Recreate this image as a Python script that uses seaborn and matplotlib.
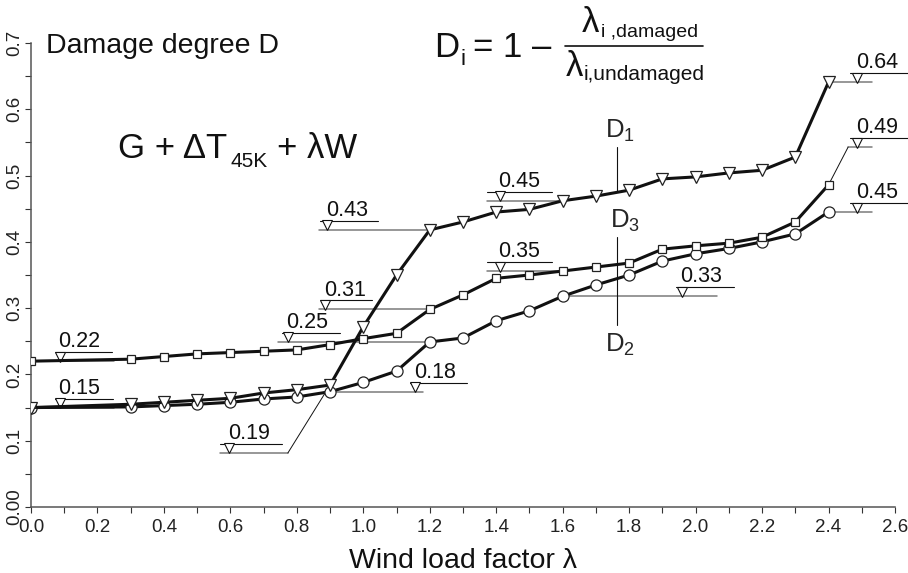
import pandas as pd
import seaborn as sns
import matplotlib.pyplot as plt
from matplotlib.lines import Line2D
from matplotlib.ticker import FixedLocator, MultipleLocator

# ==================================
# DADOS
# ==================================

lam = [0.0, 0.3, 0.4, 0.5, 0.6, 0.7, 0.8, 0.9, 1.0, 1.1, 1.2, 1.3,
       1.4, 1.5, 1.6, 1.7, 1.8, 1.9, 2.0, 2.1, 2.2, 2.3, 2.4]

d1 = [0.150, 0.155, 0.158, 0.161, 0.164, 0.172, 0.177, 0.184, 0.272, 0.350, 0.418, 0.430,
      0.445, 0.449, 0.462, 0.469, 0.478, 0.495, 0.498, 0.504, 0.508, 0.528, 0.641]
d3 = [0.220, 0.223, 0.227, 0.231, 0.233, 0.235, 0.237, 0.245, 0.254, 0.262, 0.298, 0.320,
      0.345, 0.350, 0.356, 0.362, 0.368, 0.389, 0.394, 0.398, 0.407, 0.430, 0.486]
d2 = [0.150, 0.151, 0.153, 0.155, 0.158, 0.163, 0.166, 0.174, 0.188, 0.205, 0.249, 0.255,
      0.281, 0.296, 0.318, 0.335, 0.350, 0.371, 0.382, 0.390, 0.400, 0.412, 0.445]

x_ticks = [0.0, 0.2, 0.4, 0.6, 0.8, 1.0, 1.2, 1.4, 1.6, 1.8, 2.0, 2.2, 2.4, 2.6]
x_tick_labels = ["0.0", "0.2", "0.4", "0.6", "0.8", "1.0", "1.2", "1.4",
                 "1.6", "1.8", "2.0", "2.2", "2.4", "2.6"]
y_ticks = [0.0, 0.1, 0.2, 0.3, 0.4, 0.5, 0.6, 0.7]
y_tick_labels = ["0.00", "0.1", "0.2", "0.3", "0.4", "0.5", "0.6", "0.7"]

# rotulos de nivel: texto, curva e lambda do ponto de referencia
ann_labels = ["0.22", "0.15", "0.19", "0.25", "0.31", "0.43", "0.18",
              "0.45", "0.35", "0.33", "0.64", "0.49", "0.45"]
ann_series = ["D3", "D1", "D1", "D2", "D3", "D1", "D2",
              "D1", "D3", "D2", "D1", "D3", "D2"]
ann_lambda = [0.0, 0.0, 0.9, 1.2, 1.2, 1.2, 0.9,
              1.6, 1.6, 1.6, 2.4, 2.4, 2.4]

df = pd.DataFrame({
    "lambda": lam * 3,
    "D": d1 + d3 + d2,
    "serie": ["D1"] * len(lam) + ["D3"] * len(lam) + ["D2"] * len(lam),
})

# ==================================
# LAYOUT
# ==================================

# (linha longa x0, x1, linha curta x0, x1, x do triangulo, y da prateleira ou None)
ann_layout = [
    (0.00, 0.25, 0.072, 0.245, 0.087, None),
    (0.00, 0.25, 0.072, 0.247, 0.087, None),
    (0.569, 0.773, 0.569, 0.755, 0.596, 0.0815),
    (0.743, 1.20, 0.755, 0.930, 0.773, None),
    (0.867, 1.20, 0.870, 1.026, 0.885, None),
    (0.867, 1.20, 0.870, 1.044, 0.891, None),
    (0.90, 1.180, 1.141, 1.312, 1.156, None),
    (1.372, 1.60, 1.372, 1.568, 1.411, None),
    (1.372, 1.60, 1.372, 1.568, 1.411, None),
    (1.60, 2.064, 1.941, 2.116, 1.959, None),
    (2.40, 2.531, 2.465, 2.640, 2.486, None),
    (2.459, 2.531, 2.465, 2.640, 2.486, 0.543),
    (2.40, 2.531, 2.465, 2.640, 2.486, None),
]
gap = 0.0136

sns.set_style("ticks")
plt.rcParams["font.family"] = ["Liberation Sans", "DejaVu Sans"]
plt.rcParams["mathtext.fontset"] = "custom"
plt.rcParams["mathtext.rm"] = "Liberation Sans"

W, H = 908, 573
fig = plt.figure(figsize=(W / 100, H / 100), dpi=100)
ax = fig.add_axes([31 / W, 1 - 507 / H, 864 / W, 464 / H])


def px(x, y):
    return x / W, 1 - y / H


estilos = {"D1": ("v", 9.0), "D3": ("s", 6.0), "D2": ("o", 8.0)}
for serie in ["D2", "D3", "D1"]:
    marker, ms = estilos[serie]
    sns.lineplot(
        data=df[df["serie"] == serie],
        x="lambda",
        y="D",
        color="#111111",
        linewidth=2.2,
        marker=marker,
        markersize=ms,
        markerfacecolor="white",
        markeredgecolor="#222222",
        markeredgewidth=0.9,
        ax=ax,
        zorder=5,
    )

series = {"D1": d1, "D2": d2, "D3": d3}

for txt, s, l, lay in zip(ann_labels, ann_series, ann_lambda, ann_layout):
    ay = series[s][lam.index(l)]
    lx0, lx1, sx0, sx1, tx, shelf = lay
    yl = ay if shelf is None else shelf
    ys = yl + gap
    ax.plot([lx0, lx1], [yl, yl], color="#7a7a7a", lw=1.1, zorder=3, clip_on=False)
    ax.plot([sx0, sx1], [ys, ys], color="#111111", lw=0.8, zorder=3, clip_on=False)
    ax.plot([tx], [yl + gap / 2], marker="v", ms=7.5, mfc="white", mec="#111111",
            mew=0.8, ls="none", zorder=4, clip_on=False)
    if shelf is not None:
        ax.plot([lx0 if lx0 > l else lx1, l], [yl, ay], color="#111111", lw=0.7,
                zorder=3, clip_on=False)
    ax.annotate(txt, xy=(tx, ys), xytext=(-1, 3.5), textcoords="offset points",
                ha="left", va="baseline", fontsize=15.5, color="#111111")

# rotulos das curvas
xd = 1.763
ax.plot([xd, xd], [0.543, 0.475], color="#111111", lw=0.8, zorder=3)
ax.plot([xd, xd], [0.407, 0.274], color="#111111", lw=0.8, zorder=3)
ax.text(xd + 0.01, 0.568, r"$\mathregular{D_1}$", fontsize=18.5, ha="center", va="center")
ax.text(xd + 0.025, 0.432, r"$\mathregular{D_3}$", fontsize=18.5, ha="center", va="center")
ax.text(xd + 0.01, 0.245, r"$\mathregular{D_2}$", fontsize=18.5, ha="center", va="center")

# eixos
ax.set_xlim(0, 2.6)
ax.set_ylim(0, 0.7)
ax.xaxis.set_major_locator(FixedLocator(x_ticks))
ax.set_xticklabels(x_tick_labels)
ax.xaxis.set_minor_locator(MultipleLocator(0.1))
ax.yaxis.set_major_locator(FixedLocator(y_ticks))
ax.set_yticklabels(y_tick_labels, rotation=90, va="center")
ax.yaxis.set_minor_locator(MultipleLocator(0.05))
ax.tick_params(which="both", direction="out", length=4.5, width=0.8, color="#333333")
ax.tick_params(axis="x", labelsize=13.5, pad=4, labelcolor="#222222")
ax.tick_params(axis="y", labelsize=13.5, pad=1, labelcolor="#222222")
for sp in ["top", "right"]:
    ax.spines[sp].set_visible(False)
for sp in ["left", "bottom"]:
    ax.spines[sp].set_color("#555555")
    ax.spines[sp].set_linewidth(1.1)

ax.set_xlabel("Wind load factor λ", fontsize=20.5, labelpad=9, color="#111111")
ax.set_ylabel("")

# textos
fig.text(*px(46, 53), "Damage degree D", fontsize=20.5, va="baseline", ha="left", color="#111111")

fig.text(*px(118, 158), "G + ΔT", fontsize=25, va="baseline", ha="left", color="#111111")
fig.text(*px(230, 167), "45K", fontsize=15, va="baseline", ha="left", color="#111111")
fig.text(*px(277, 158), "+ λW", fontsize=25, va="baseline", ha="left", color="#111111")

fig.text(*px(434, 57), "D", fontsize=25, va="baseline", ha="left", color="#111111")
fig.text(*px(460, 65), "i", fontsize=16, va="baseline", ha="left", color="#111111")
fig.text(*px(473, 57), "= 1 –", fontsize=25, va="baseline", ha="left", color="#111111")
fig.add_artist(Line2D([565 / W, 703 / W], [1 - 46 / H, 1 - 46 / H], color="#111111", lw=1.2))
fig.text(*px(582, 32), "λ", fontsize=25, va="baseline", ha="left", color="#111111")
fig.text(*px(601, 37), "i ,damaged", fontsize=14, va="baseline", ha="left", color="#111111")
fig.text(*px(566, 76), "λ", fontsize=25, va="baseline", ha="left", color="#111111")
fig.text(*px(584, 80), "i,undamaged", fontsize=15, va="baseline", ha="left", color="#111111")

fig.savefig("out.png", dpi=100)
